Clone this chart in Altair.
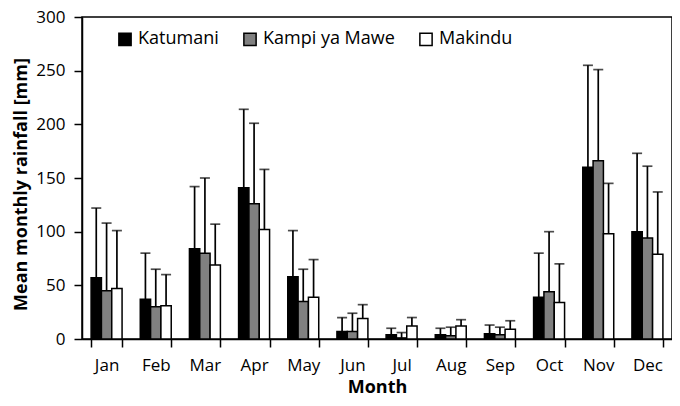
import altair as alt
import pandas as pd

months = ["Jan", "Feb", "Mar", "Apr", "May", "Jun", "Jul", "Aug", "Sep", "Oct", "Nov", "Dec"]
stations = ["Katumani", "Kampi ya Mawe", "Makindu"]

katumani_mean = [57, 37, 84, 141, 58, 7, 4, 4, 5, 39, 160, 100]
katumani_upper = [122, 80, 142, 214, 101, 20, 10, 10, 13, 80, 255, 173]
kampi_mean = [45, 30, 80, 126, 35, 7, 1, 3, 4, 44, 166, 94]
kampi_upper = [108, 65, 150, 201, 65, 24, 6, 11, 11, 100, 251, 161]
makindu_mean = [47, 31, 69, 102, 39, 19, 12, 12, 9, 34, 98, 79]
makindu_upper = [101, 60, 107, 158, 74, 32, 20, 18, 17, 70, 145, 137]

means = [katumani_mean, kampi_mean, makindu_mean]
uppers = [katumani_upper, kampi_upper, makindu_upper]

rows = []
for s, m_list, u_list in zip(stations, means, uppers):
    for mo, m, u in zip(months, m_list, u_list):
        rows.append({"Month": mo, "Station": s, "mean": m, "upper": u})
df = pd.DataFrame(rows)

FONT = "Open Sans"

x = alt.X("Month:N", sort=months,
          scale=alt.Scale(paddingInner=0.37, paddingOuter=0.185),
          axis=alt.Axis(title="Month", labelAngle=0, tickBand="extent"))
xo = alt.XOffset("Station:N", sort=stations, scale=alt.Scale(paddingInner=0.0, paddingOuter=0))
color = alt.Color("Station:N", sort=stations,
                  scale=alt.Scale(domain=stations, range=["#000000", "#808080", "#ffffff"]),
                  legend=alt.Legend(title=None, orient="none", legendX=34, legendY=13,
                                    direction="horizontal", symbolType="square", symbolSize=150,
                                    symbolStrokeColor="black", symbolStrokeWidth=1.5,
                                    symbolOpacity=1, labelFontSize=18, labelFont=FONT,
                                    columnPadding=21, labelOffset=4))

yscale = alt.Scale(domain=[0, 300])
yaxis = alt.Axis(title="Mean monthly rainfall [mm]", values=[0, 50, 100, 150, 200, 250, 300],
                 titleY=167)

base = alt.Chart(df)

bars = base.mark_bar(stroke="black", strokeWidth=1.5).encode(
    x=x, xOffset=xo,
    y=alt.Y("mean:Q", scale=yscale, axis=yaxis),
    fill=color,
)

rules = base.mark_rule(color="black", strokeWidth=1.7).encode(
    x=x, xOffset=xo,
    y=alt.Y("mean:Q", scale=yscale),
    y2="upper:Q",
)

caps = base.mark_tick(color="black", thickness=1.7, size=10, orient="horizontal").encode(
    x=x, xOffset=xo,
    y=alt.Y("upper:Q", scale=yscale),
)

chart = alt.layer(bars, rules, caps).properties(
    width=590, height=322,
    autosize=alt.AutoSizeParams(type="none"),
    padding={"left": 74, "top": 9, "right": 0, "bottom": 59},
).configure_view(
    stroke="black", strokeWidth=1.5
).configure_axis(
    grid=False, domainColor="black", domainWidth=1.5, tickColor="black", tickWidth=1.5,
    tickSize=8, labelFont=FONT, labelFontSize=17, labelColor="black",
    titleFont=FONT, titleFontSize=18, titleFontWeight="bold", titleColor="black",
).configure_axisX(
    labelPadding=10, titlePadding=5
).configure_axisY(
    labelPadding=9, titlePadding=5
)

chart.save("out.html", embed_options={"renderer": "svg", "actions": False})
